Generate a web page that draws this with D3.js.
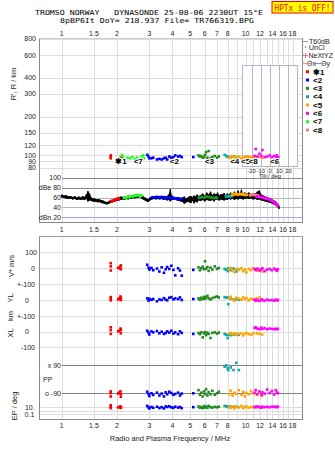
<!DOCTYPE html>
<html><head><meta charset="utf-8">
<script src="https://cdn.jsdelivr.net/npm/d3@7/dist/d3.min.js"></script>
<style>
body{margin:0;background:#fff}
svg{display:block}
text{font-family:"Liberation Sans",Arial,sans-serif;fill:#222}
.mono{font-family:"DejaVu Sans Mono",monospace}
</style>
</head><body>
<svg id="chart" width="335" height="451"></svg>
<script>
// ---- header ----
const titleLine1 = "TROMSO NORWAY   DYNASONDE 25-08-06 2230UT 15°E";
const titleLine2 = "8pBP6It DoY= 218.937 File= TR766319.BPG";
const statusText = "HPTx is OFF!";

// ---- axes ----
const freqLabelsTop = [1, 1.5, 2, 3, 4, 5, 6, 7, 8, 10, 12, 14, 16, 18];
const freqLabelsMid = [1, 1.5, 2, 3, 4, 5, 6, 7, 8, 9, 10, 12, 14, 16, 18];
const freqLabelsBot = [1, 1.5, 2, 3, 4, 5, 6, 7, 8, 10, 12, 14, 16, 18];
const freqGrid = [1, 1.5, 2, 3, 4, 5, 6, 7, 8, 9, 10, 11, 12, 13, 14, 15, 16, 17, 18];
const heightTicks = [80, 90, 100, 120, 150, 200, 300, 400, 600, 800];
const dbTicks = [100, 80, 60, 40, 20];
const dbTickLabels = ["100", "dBe 80", "60", "40", "dBn 20"];
const tiltTicks = [-20, -10, 0, 10, 20];

// ---- echo classes ----
const echoNames = ["1", "2", "3", "4", "5", "6", "7", "8"];
const echoColors = ["#ff0000", "#0000ff", "#228b22", "#10a8a8", "#ffa500", "#ff00ff", "#22ff22", "#f08080"];
const echoGlyphs = ["✱1", "<2", "<3", "<4", "<5", "<6", "<7", "<8"];
// marker positions [freq MHz, height km]
const echoMarkerPos = [[2.1, 91], [4.1, 91], [6.36, 91], [8.73, 91], [10.0, 91], [14.4, 91], [2.61, 91], [11.0, 91]];

// echoes with full parameters: [freq, R' km, V* m/s, YL km, XL km, PP deg, EP deg]
const echo1 = [[1.85,100,32,18,28,-78,30],[1.85,97,12,8,10,-88,12],[1.85,95,-14,-2,-14,-110,5],[2.03,94,4,4,2,-92,8],
  [2.06,95,0,10,6,-85,10],[2.09,96,12,22,20,-78,14],[2.1,93,-6,0,-10,-112,6],[2.1,95,18,14,12,-96,9]];
const echo2 = [[2.92,101,22,10,6,-80,20],[2.97,98,4,-4,-6,-95,8],[3.0,95,-8,8,-18,-108,4],[3.08,95,2,2,2,-90,10],
  [3.15,96,-12,6,-4,-100,6],[3.3,93,-2,-8,4,-86,12],[3.4,94,-20,4,-10,-104,5],[3.5,93,6,0,0,-92,9],
  [3.6,95,-28,12,-14,-110,4],[3.68,96,-6,2,-8,-84,14],[3.75,93,8,-2,2,-96,10],[3.85,98,-4,14,-6,-80,16],
  [3.95,96,16,18,6,-88,8],[4.05,97,-10,4,-12,-100,6],[4.15,100,-44,10,-4,-94,12],[4.3,98,0,6,-16,-86,7],
  [4.4,99,-14,16,2,-104,10],[4.5,97,-46,0,-8,-92,5],[5.2,97,-10,6,-14,-90,9]];
const echo3 = [[5.55,100,6,10,-8,-70,14],[5.65,98,-12,2,-16,-100,6],[5.75,99,0,14,-4,-86,10],[5.85,96,10,6,-36,-110,5],
  [5.95,97,-6,20,-10,-78,18],[6.02,101,44,8,-2,-94,8],[6.1,106,-2,16,-22,-64,12],[6.2,96,8,26,-6,-104,6],
  [6.3,108,-16,10,-14,-82,20],[6.45,95,4,4,-40,-96,9],[6.6,97,-8,12,-8,-74,7],[6.8,99,12,18,-4,-100,11],
  [7.0,96,-4,22,-12,-90,8],[7.15,98,2,16,-6,-80,12]];
const echo4 = [[7.7,101,-4,18,-14,80,20],[7.85,99,-8,14,-20,88,16],[8.0,97,-18,16,-40,70,12],[8.05,98,0,-26,-20,58,10],
  [8.3,97,-12,8,-22,74,14],[8.6,98,-2,4,-20,58,10],[8.9,96,-20,6,-18,104,12],[9.2,97,-8,2,-20,58,9]];
const echo5 = [[8.15,97,-6,10,-12,-96,10],[8.3,96,2,20,-8,-74,6],[8.5,99,-14,4,-16,-104,14],[8.7,96,-24,-4,-10,-86,4],
  [8.9,98,-4,14,-20,-94,12],[9.2,97,-10,8,-14,-70,8],[9.5,95,0,2,-10,-100,20],[9.7,97,-18,16,-24,-80,5],
  [9.9,98,-8,6,-12,-110,10],[10.1,96,-26,12,-8,-88,14],[10.4,98,-4,-2,-16,-96,6],[10.7,97,-12,8,-20,-76,10],
  [11.0,96,0,4,-12,-92,8],[11.5,98,-16,10,-10,-100,12],[11.9,97,-6,16,-14,-84,6],[12.3,96,-20,2,-18,-106,9]];
const echo6 = [[11.2,99,-4,2,24,-86,12],[11.35,112,-10,-4,28,-70,8],[11.6,98,-2,0,20,-96,14],[11.9,103,-14,-6,16,-78,10],
  [12.2,99,-6,4,26,-100,7],[12.35,110,0,-2,18,-84,12],[12.7,97,-18,-4,22,-92,9],[13.1,98,-8,2,16,-66,11],
  [13.5,100,-4,-2,20,-88,8],[13.9,97,-12,0,18,-76,13],[14.3,99,-2,-4,16,-98,10],[14.6,98,-8,2,18,-70,12],
  [14.8,100,-16,-2,16,-84,9],[15.0,97,-6,0,18,-90,11]];
// echoes with range only: [freq, R' km]
const echo7 = [[2.13,101],[2.15,97],[2.2,94],[2.28,96],[2.35,95],[2.42,97],[2.5,94],[2.58,96],[2.65,93],[2.72,98],[2.78,100],[2.8,95]];
const echo8 = [[9.9,97],[10.2,98],[10.5,96],[10.8,97],[11.1,98]];

// echo amplitude segments: [freq, dB]
const amp1 = [[1.83,52],[1.87,53],[1.91,54],[2.0,57],[2.04,58],[2.08,59]];
const amp7 = [[2.15,59],[2.22,60],[2.3,61],[2.38,62],[2.45,63],[2.52,64],[2.6,65],[2.68,64],[2.76,63]];
const amp2 = [[3.05,59],[3.12,60],[3.2,60],[3.3,61],[3.4,60],[3.5,61],[3.6,60],[3.7,59],[3.95,60],[4.05,59],[4.15,58],[4.3,58],[4.45,57],[4.6,57]];
const amp3 = [[5.5,58],[5.65,60],[5.8,61],[5.95,60],[6.1,62],[6.3,61],[6.5,60],[6.7,59],[6.9,60],[7.1,59]];
const amp4 = [[7.7,61],[7.85,62],[8.0,63],[8.2,62],[8.4,63],[8.6,64]];
const amp5 = [[8.3,65],[8.55,66],[8.8,67],[9.1,66],[9.4,67],[9.7,66],[10.0,65],[10.3,66]];
const amp8 = [[10.4,64],[10.7,65],[11.0,66],[11.3,65],[11.6,64],[11.9,63]];
const amp6 = [[11.3,62],[11.7,62],[12.1,61],[12.5,60],[12.9,58],[13.3,57],[13.7,55],[14.1,52],[14.5,48],[14.8,45],[15.1,41]];

// received amplitude trace: [freq, low dB, high dB]
const ampTrace = [
 [1.00,60,66],[1.03,59,64],[1.06,58,65],[1.09,57,62],[1.12,58,63],[1.15,56,61],[1.18,57,63],[1.21,55,60],
 [1.24,56,62],[1.27,55,60],[1.30,56,63],[1.33,55,61],[1.36,57,66],[1.39,52,73],[1.42,54,68],[1.45,53,60],
 [1.48,52,58],[1.51,51,58],[1.54,52,57],[1.57,50,56],[1.60,51,57],[1.64,49,55],[1.68,48,54],[1.72,47,52],
 [1.76,46,51],[1.80,47,52],[1.84,49,54],[1.88,50,55],[1.92,51,56],[1.96,52,58],[2.00,53,59],[2.05,54,60],
 [2.10,55,62],[2.15,56,61],[2.20,55,63],[2.25,57,62],[2.30,56,64],[2.35,58,63],[2.40,57,65],[2.45,59,64],
 [2.50,58,66],[2.55,60,65],[2.60,59,67],[2.66,61,66],[2.72,58,64],[2.78,56,62],[2.84,54,60],[2.90,52,58],
 [2.96,51,57],[3.02,54,60],[3.10,56,61],[3.18,57,62],[3.26,56,61],[3.34,57,63],[3.42,56,61],[3.50,57,62],
 [3.58,55,61],[3.66,56,62],[3.74,54,63],[3.82,55,66],[3.90,52,77],[3.98,55,64],[4.06,56,61],[4.15,55,60],
 [4.25,54,60],[4.35,53,59],[4.45,52,58],[4.55,51,60],[4.65,47,62],[4.75,50,58],[4.85,52,60],[4.95,50,62],
 [5.05,49,63],[5.15,53,61],[5.25,48,64],[5.35,52,62],[5.45,50,66],[5.55,54,63],[5.70,53,65],[5.85,55,68],
 [6.00,52,64],[6.15,55,70],[6.30,54,66],[6.45,53,72],[6.60,55,65],[6.75,52,68],[6.90,56,66],[7.05,55,70],
 [7.20,54,64],[7.35,56,67],[7.50,55,66],[7.65,54,69],[7.80,56,65],[7.95,55,68],[8.10,57,66],[8.30,56,70],
 [8.50,58,67],[8.70,55,72],[8.90,57,66],[9.10,56,74],[9.30,58,68],[9.50,57,76],[9.70,56,67],[9.90,57,70],
 [10.1,58,68],[10.4,57,70],[10.7,58,67],[11.0,56,69],[11.3,57,68],[11.6,55,72],[11.9,56,74],[12.2,54,66],
 [12.5,53,64],[12.8,52,62],[13.1,51,61],[13.4,50,59],[13.7,49,58],[14.0,47,56],[14.3,46,54],[14.6,44,52],
 [14.9,41,48],[15.2,37,44]];

const fullEchoes = [echo1, echo2, echo3, echo4, echo5, echo6];
const rangeOnlyEchoes = [[echo7, 6], [echo8, 7]];
const ampSegments = [[amp1,0],[amp7,6],[amp2,1],[amp3,2],[amp4,3],[amp5,4],[amp8,7],[amp6,5]];

// ---- layout ----
const L = 39, R = 302, TOP = 38, AMPB = 222, BT = 236, BB = 419;
const svg = d3.select("#chart");

const x = d3.scaleLog().domain([1, 18]).range([61.6, 292.5]);
const hY = d3.scaleLog().domain([80, 800]).range([167.9, 38.9]);
const aY = d3.scaleLinear().domain([20, 100]).range([217.3, 177.7]);
const vY = d3.scaleLinear().domain([0, 100]).range([268.3, 252.3]);
const ylY = d3.scaleLinear().domain([0, 100]).range([300, 284]);
const xlY = d3.scaleLinear().domain([0, 100]).range([331.7, 316]);
const ppY = d3.scaleLinear().domain([-90, 90]).range([393.3, 365]);
const epY = d3.scaleLog().domain([0.1, 10]).range([414.3, 407]);
const tiltX = d3.scaleLinear().domain([-30, 30]).range([242.3, 297.7]);

const grid = svg.append("g").attr("shape-rendering", "crispEdges");
function hline(y, x1, x2, color) {
  grid.append("line").attr("x1", x1).attr("x2", x2).attr("y1", Math.round(y) + 0.5).attr("y2", Math.round(y) + 0.5)
    .attr("stroke", color).attr("stroke-width", 1);
}
// vertical frequency grid
freqGrid.forEach(f => {
  const xx = Math.round(x(f)) + 0.5;
  grid.append("line").attr("x1", xx).attr("x2", xx).attr("y1", TOP).attr("y2", AMPB).attr("stroke", "#dcdcdc");
  grid.append("line").attr("x1", xx).attr("x2", xx).attr("y1", BT).attr("y2", BB).attr("stroke", "#dcdcdc");
});
// height grid
heightTicks.forEach(h => hline(hY(h), L, R, "#dcdcdc"));
// amplitude grid
dbTicks.forEach(d => {
  const c = d === 20 ? "#a8a8d8" : (d >= 80 ? "#8a8a8a" : "#b8b8b8");
  hline(aY(d), x(1), R, c);
});
// lower panel grid
[100, 0].forEach(v => hline(vY(v), L, R, "#dcdcdc"));
[100, 0].forEach(v => hline(ylY(v), L, R, "#dcdcdc"));
[100, 0, -100].forEach(v => hline(xlY(v), L, R, "#dcdcdc"));
[10, 1, 0.1].forEach(v => hline(epY(v), L, R, "#dcdcdc"));
[90, -90].forEach(v => hline(ppY(v), x(1), R, "#808080"));

// tilt panel
const tilt = svg.append("g").attr("shape-rendering", "crispEdges");
tilt.append("rect").attr("x", tiltX(-30)).attr("y", 65.5).attr("width", tiltX(30) - tiltX(-30)).attr("height", 101)
  .attr("fill", "#fff").attr("stroke", "#b4b4cc");
tiltTicks.forEach(t => {
  tilt.append("line").attr("x1", Math.round(tiltX(t)) + 0.5).attr("x2", Math.round(tiltX(t)) + 0.5)
    .attr("y1", 65.5).attr("y2", 166.5).attr("stroke", "#b4b4cc");
  svg.append("text").attr("x", tiltX(t)).attr("y", 172.5).attr("text-anchor", "middle")
    .attr("font-size", 5.8).text(t);
});
svg.append("text").attr("x", tiltX(0)).attr("y", 177.5).attr("text-anchor", "middle").attr("font-size", 5.8).text("Tilt / deg");

// frame
const frame = svg.append("g").attr("shape-rendering", "crispEdges").attr("fill", "none");
frame.append("line").attr("x1", L + 0.5).attr("x2", L + 0.5).attr("y1", TOP).attr("y2", AMPB).attr("stroke", "#8a8a8a");
frame.append("line").attr("x1", R + 0.5).attr("x2", R + 0.5).attr("y1", TOP).attr("y2", AMPB).attr("stroke", "#8a8a8a");
frame.append("line").attr("x1", L).attr("x2", R).attr("y1", TOP + 0.5).attr("y2", TOP + 0.5).attr("stroke", "#cfcfcf");
frame.append("line").attr("x1", L).attr("x2", R + 1).attr("y1", AMPB + 0.5).attr("y2", AMPB + 0.5).attr("stroke", "#8a8a8a");
frame.append("line").attr("x1", L + 0.5).attr("x2", L + 0.5).attr("y1", BT).attr("y2", BB).attr("stroke", "#8a8a8a");
frame.append("line").attr("x1", R + 0.5).attr("x2", R + 0.5).attr("y1", BT).attr("y2", BB).attr("stroke", "#8a8a8a");
frame.append("line").attr("x1", L).attr("x2", R + 1).attr("y1", BT + 0.5).attr("y2", BT + 0.5).attr("stroke", "#a0a0a0");
frame.append("line").attr("x1", L).attr("x2", R + 1).attr("y1", BB + 0.5).attr("y2", BB + 0.5).attr("stroke", "#8a8a8a");

// amplitude trace
const trace = svg.append("g");
trace.append("path").datum(ampTrace)
  .attr("d", d3.area().x(d => x(d[0])).y0(d => aY(d[1])).y1(d => aY(d[2])))
  .attr("fill", "#000");
trace.selectAll("line").data(ampTrace).join("line")
  .attr("x1", d => x(d[0])).attr("x2", d => x(d[0]))
  .attr("y1", d => aY(d[1])).attr("y2", d => aY(d[2]))
  .attr("stroke", "#000").attr("stroke-width", 1.4);
ampSegments.forEach(([seg, ci]) => {
  svg.append("path").datum(seg)
    .attr("d", d3.line().x(d => x(d[0])).y(d => aY(d[1])))
    .attr("fill", "none").attr("stroke", echoColors[ci]).attr("stroke-width", 3);
});

// echo points
const S = 2.6;
function dots(data, color, fx, fy) {
  svg.append("g").selectAll("rect").data(data).join("rect")
    .attr("x", d => fx(d) - S / 2).attr("y", d => fy(d) - S / 2)
    .attr("width", S).attr("height", S).attr("fill", color);
}
rangeOnlyEchoes.forEach(([e, ci]) => dots(e, echoColors[ci], d => x(d[0]), d => hY(d[1])));
fullEchoes.forEach((e, ci) => {
  const c = echoColors[ci];
  dots(e, c, d => x(d[0]), d => hY(d[1]));
  dots(e, c, d => x(d[0]), d => vY(d[2]));
  dots(e, c, d => x(d[0]), d => ylY(d[3]));
  dots(e, c, d => x(d[0]), d => xlY(d[4]));
  dots(e, c, d => x(d[0]), d => ppY(d[5]));
  dots(e, c, d => x(d[0]), d => epY(d[6]));
});

// echo markers
echoMarkerPos.forEach((p, i) => {
  svg.append("text").attr("x", x(p[0])).attr("y", hY(p[1]) + 3)
    .attr("text-anchor", "middle").attr("font-size", 8).attr("font-weight", "bold")
    .attr("stroke", "#fff").attr("stroke-width", 2).attr("paint-order", "stroke")
    .style("fill", "#000").text(echoGlyphs[i]);
});

// frequency labels
function freqRow(list, y) {
  svg.append("g").selectAll("text").data(list).join("text")
    .attr("x", d => x(d)).attr("y", y).attr("text-anchor", "middle").attr("font-size", 7).text(d => d);
}
freqRow(freqLabelsTop, 35.5);
freqRow(freqLabelsMid, 231.5);
freqRow(freqLabelsBot, 428.2);

// height labels
svg.append("g").selectAll("text").data(heightTicks).join("text")
  .attr("x", 36).attr("y", d => hY(d) + 2.5).attr("text-anchor", "end").attr("font-size", 7).text(d => d);
// amplitude labels
dbTicks.forEach((d, i) => {
  svg.append("text").attr("x", 61).attr("y", aY(d) + 2.5).attr("text-anchor", "end").attr("font-size", 7).text(dbTickLabels[i]);
});
// lower panel labels
function lab(t, xx, y, anchor) {
  svg.append("text").attr("x", xx).attr("y", y + 2.5).attr("text-anchor", anchor || "end").attr("font-size", 7).text(t);
}
lab("100", 37, vY(100)); lab("0", 33, vY(0), "middle");
lab("+-100", 35, ylY(100)); lab("0", 27, ylY(0), "middle");
lab("+-100", 35, xlY(100)); lab("0", 27, xlY(0), "middle"); lab("-100", 35, xlY(-100));
lab("x 90", 61, ppY(90)); lab("PP", 43, 379.3, "start"); lab("o -90", 61, ppY(-90));
lab("10.", 34.7, epY(10)); lab("0.1", 34.3, epY(0.1));

// rotated axis titles
function vtitle(t, xx, y) {
  svg.append("text").attr("transform", `translate(${xx},${y}) rotate(-90)`)
    .attr("text-anchor", "middle").attr("font-size", 7.5).text(t);
}
vtitle("R', R / km", 16, 84);
vtitle("V* m/s", 14, 266);
vtitle("YL", 13, 298);
vtitle("km", 13, 316);
vtitle("XL", 13, 333);
vtitle("EP / deg", 17, 406);
svg.append("text").attr("x", 170).attr("y", 441).attr("text-anchor", "middle").attr("font-size", 7.5)
  .text("Radio and Plasma Frequency / MHz");

// header
svg.append("text").attr("class", "mono").attr("x", 35).attr("y", 14.6).attr("font-size", 7)
  .attr("textLength", 228).attr("lengthAdjust", "spacingAndGlyphs").style("white-space", "pre").style("fill", "#000").text(titleLine1);
svg.append("text").attr("class", "mono").attr("x", 60).attr("y", 22.6).attr("font-size", 7)
  .attr("textLength", 194).attr("lengthAdjust", "spacingAndGlyphs").style("white-space", "pre").style("fill", "#000").text(titleLine2);
svg.append("rect").attr("x", 272).attr("y", 1.5).attr("width", 61).attr("height", 11.5)
  .attr("fill", "#ffff00").attr("stroke", "#ff0000").attr("stroke-width", 1);
svg.append("text").attr("class", "mono").attr("x", 274.5).attr("y", 10.5).attr("font-size", 8)
  .attr("textLength", 56).attr("lengthAdjust", "spacingAndGlyphs").style("fill", "#ff0000").text(statusText);

// legend
const lg = svg.append("g");
lg.append("line").attr("x1", 303).attr("x2", 308).attr("y1", 41.5).attr("y2", 41.5).attr("stroke", "#999");
lg.append("text").attr("x", 309).attr("y", 44).attr("font-size", 7).text("T60dB");
lg.append("rect").attr("x", 305).attr("y", 46.5).attr("width", 1).attr("height", 1).attr("fill", "#000");
lg.append("text").attr("x", 309).attr("y", 49.5).attr("font-size", 7).text("UnCl");
lg.append("path").attr("d", "M303,55.5h5M305.5,53v5").attr("stroke", "#e07090");
lg.append("text").attr("x", 308.5).attr("y", 57.5).attr("font-size", 7).text("NeXtYZ");
lg.append("line").attr("x1", 302).attr("x2", 307).attr("y1", 63.5).attr("y2", 63.5).attr("stroke", "#f09090");
lg.append("text").attr("x", 307).attr("y", 66).attr("font-size", 7).text("Θx");
lg.append("line").attr("x1", 315).attr("x2", 321).attr("y1", 63.5).attr("y2", 63.5).attr("stroke", "#9090e0");
lg.append("text").attr("x", 321).attr("y", 66).attr("font-size", 7).text("Θy");
echoNames.forEach((n, i) => {
  const y = 71.7 + i * 8.33;
  lg.append("rect").attr("x", 306).attr("y", y - 1.5).attr("width", 3).attr("height", 3).attr("fill", echoColors[i]);
  lg.append("text").attr("x", 313).attr("y", y + 2.8).attr("font-size", 8).attr("font-weight", "bold")
    .style("fill", "#000").text(echoGlyphs[i]);
});
</script>
</body></html>
